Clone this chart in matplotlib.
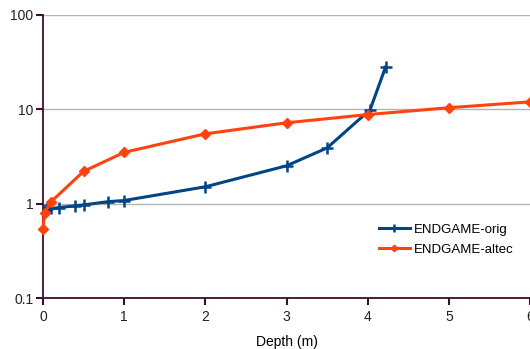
import matplotlib
matplotlib.use("Agg")
import matplotlib.pyplot as plt
from matplotlib.ticker import FixedLocator, FixedFormatter, NullLocator

plt.rcParams['font.family'] = ['Liberation Sans', 'DejaVu Sans']

# ENDGAME-orig (blue)
orig_depth = [0, 0.02, 0.05, 0.1, 0.2, 0.4, 0.5, 0.8, 1, 2, 3, 3.5, 4.03, 4.22]
orig_value = [0.82, 0.85, 0.87, 0.89, 0.91, 0.95, 0.97, 1.05, 1.08, 1.51, 2.52, 3.9, 9.9, 28]

# ENDGAME-altec (orange)
altec_depth = [0, 0.02, 0.1, 0.5, 1, 2, 3, 4, 5, 6]
altec_value = [0.54, 0.8, 1.05, 2.2, 3.5, 5.5, 7.2, 8.8, 10.4, 12.0]

y_ticks = [0.1, 1, 10, 100]
y_labels = ['0.1', '1', '10', '100']
x_ticks = [0, 1, 2, 3, 4, 5, 6]

axis_col = '#3b0f2f'

fig = plt.figure(figsize=(5.3, 3.49), dpi=100)
ax = fig.add_axes([43 / 530, 1 - 298 / 349, 487 / 530, (298 - 15) / 349])

ax.plot(orig_depth, orig_value, color='#004586', lw=2.2, marker='+',
        ms=9, mew=1.8, label='ENDGAME-orig', zorder=3)
ax.plot(altec_depth, altec_value, color='#ff420e', lw=2.2, marker='D',
        ms=5.5, label='ENDGAME-altec', zorder=3, clip_on=False)

ax.set_yscale('log')
ax.set_ylim(0.1, 100)
ax.set_xlim(0, 6)
ax.yaxis.set_major_locator(FixedLocator(y_ticks))
ax.yaxis.set_major_formatter(FixedFormatter(y_labels))
ax.yaxis.set_minor_locator(NullLocator())
ax.set_xticks(x_ticks)

ax.grid(axis='y', color='#b3b3b3', lw=1)
ax.set_axisbelow(True)
for s in ['top', 'right']:
    ax.spines[s].set_visible(False)
for s in ['left', 'bottom']:
    ax.spines[s].set_color(axis_col)
    ax.spines[s].set_linewidth(1.3)
ax.tick_params(axis='both', direction='out', length=5, width=1.5,
               color=axis_col, labelsize=10, labelcolor='#222222')
ax.tick_params(axis='y', pad=2)

ax.set_xlabel('Depth (m)', fontsize=10, labelpad=8)

leg = ax.legend(loc='upper left', bbox_to_anchor=(0.665, 0.305), frameon=False,
                fontsize=9.5, handlelength=2.35, markerscale=0.6,
                labelspacing=0.6, handletextpad=0.35)

fig.savefig('out.png', dpi=100)
